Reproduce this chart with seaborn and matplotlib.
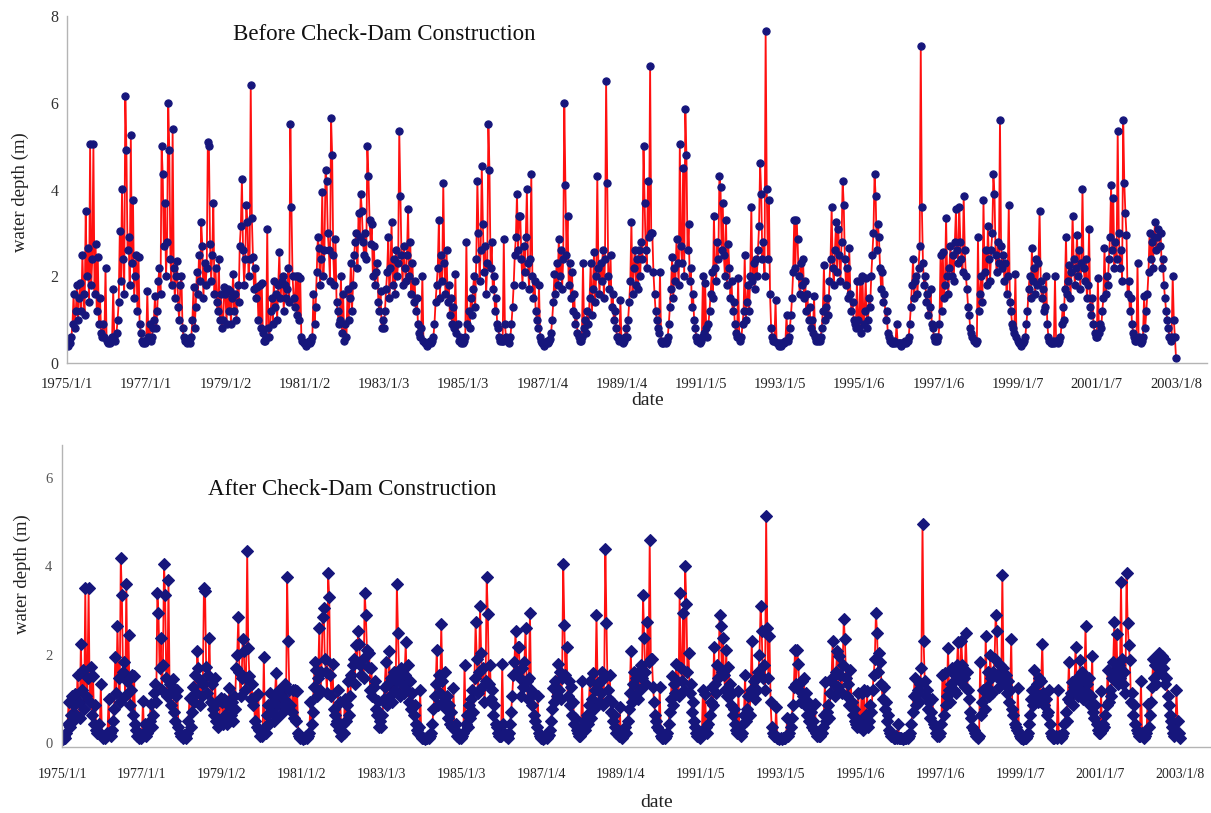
import numpy as np
import pandas as pd
import matplotlib
matplotlib.use("Agg")
import matplotlib.pyplot as plt
import seaborn as sns

sns.set_style("white")
plt.rcParams['font.family'] = ['Liberation Serif', 'DejaVu Serif']

# ---------------- data: water depth (m), ~10-day readings ----------------
before_1975 = [0.45,0.4,0.5,0.45,0.6,0.9,1.6,0.8,1.2,1.8,1.0,1.5,1.85,1.2,2.5,1.6,1.1,3.5,2.0,2.65,1.4,5.05,1.8,2.4,5.05,1.6,2.75,1.2,2.45,0.9,1.5,0.7,0.6,0.9,0.6,2.2]
before_1976 = [0.5,0.45,0.5,0.45,0.55,0.6,1.7,0.6,0.5,0.7,1.0,1.4,3.05,1.9,4.0,2.4,1.6,6.15,4.9,2.6,2.9,1.8,5.25,2.3,3.75,1.5,2.0,2.5,1.2,2.45,0.9,0.7,0.5,0.45,0.5,0.45]
before_1977 = [0.5,1.65,0.6,0.9,0.5,0.6,0.8,1.0,1.55,0.8,1.2,1.9,2.2,1.6,5.0,4.35,2.7,3.7,2.0,2.8,6.0,4.9,2.4,1.8,5.4,2.2,1.5,2.0,2.35,1.3,1.0,1.8,2.0,0.8,0.6,0.5]
before_1978 = [0.5,0.45,0.55,0.5,0.45,0.6,1.0,1.75,0.8,1.3,2.1,1.6,2.5,1.9,3.25,2.7,1.5,2.3,1.8,2.2,5.1,5.0,2.75,1.9,2.5,3.7,1.6,2.2,1.4,1.2,2.4,1.0,1.6,0.8,1.0,1.75]
before_1979 = [1.6,0.9,1.7,1.2,1.65,0.9,1.5,2.05,1.2,1.6,1.0,1.8,1.4,2.7,3.15,4.25,2.6,1.8,2.4,3.65,3.25,2.0,2.4,6.4,3.35,2.45,1.7,2.2,1.5,1.75,1.0,1.8,0.8,1.85,0.7,0.5]
before_1980 = [0.5,0.6,3.1,0.8,0.6,1.2,1.5,0.9,1.9,1.3,1.6,1.0,1.8,2.55,1.5,1.9,2.0,1.2,1.8,1.5,1.7,2.2,1.4,5.5,3.6,2.0,1.5,1.3,2.0,1.1,2.0,1.0,1.95,0.6,0.5,0.45]
before_1981 = [0.45,0.4,0.45,0.45,0.5,0.45,0.5,0.6,1.6,0.9,1.3,2.1,2.9,2.65,1.8,2.4,3.95,2.0,2.6,4.45,4.2,3.0,2.6,1.9,5.65,4.8,2.5,1.8,2.85,1.4,1.2,0.9,1.0,2.0,0.7,1.6]
before_1982 = [0.5,0.9,0.6,1.7,1.0,1.5,2.3,1.2,1.8,2.5,2.8,3.0,2.2,3.45,2.9,3.9,3.5,2.8,2.5,3.0,2.4,5.0,4.3,3.3,2.75,3.2,2.0,2.7,1.8,2.1,2.3,1.4,1.2,1.65,0.8,1.0]
before_1983 = [0.8,1.2,1.7,2.1,2.9,1.5,2.2,3.25,1.8,2.4,1.6,2.6,2.0,2.3,5.35,3.85,2.5,1.8,2.7,2.2,1.9,2.5,3.55,2.0,2.8,1.6,2.3,1.4,1.9,1.2,1.5,0.9,0.7,0.6,0.8,2.0]
before_1984 = [0.5,0.45,0.45,0.4,0.45,0.45,0.5,0.45,0.5,0.6,0.9,1.4,1.8,2.2,3.3,1.5,2.5,1.9,4.15,2.3,1.6,2.6,1.4,1.8,1.1,1.5,0.9,1.3,0.8,2.05,0.7,0.9,0.5,0.6,0.45,0.5]
before_1985 = [0.45,0.5,0.6,2.8,0.9,1.2,0.8,1.5,1.1,1.7,2.0,1.3,2.4,4.2,3.0,1.9,2.6,4.55,3.2,2.1,2.7,1.6,2.3,5.5,4.45,2.2,2.8,1.7,2.0,1.2,1.5,0.9,0.8,0.6,0.5,0.5]
before_1986 = [0.5,2.85,0.9,0.6,0.5,0.5,0.45,0.6,0.9,1.3,1.8,2.5,2.9,3.9,2.6,3.4,3.4,2.4,1.8,2.7,2.1,2.9,4.0,2.3,1.7,2.4,4.35,2.0,1.5,1.9,1.2,1.0,0.8,1.8,0.6,0.5]
before_1987 = [0.45,0.45,0.4,0.45,0.5,0.45,0.5,0.55,0.7,1.0,1.4,2.05,1.6,2.3,1.8,2.85,2.0,2.6,1.7,2.4,6.0,4.1,2.5,3.4,1.8,2.3,1.5,2.1,1.2,1.6,0.9,1.1,0.7,0.6,0.5,0.5]
before_1988 = [0.6,2.3,0.8,1.0,0.7,1.2,0.9,1.5,2.3,1.1,1.7,2.55,1.4,2.0,4.3,2.2,1.6,2.3,1.9,2.6,1.5,2.4,6.5,4.15,2.0,1.7,2.5,1.3,1.6,1.0,1.2,0.8,0.6,0.6,0.5,1.45]
before_1989 = [0.5,0.45,0.5,0.6,0.8,0.6,1.0,1.4,1.9,3.25,1.6,2.2,2.6,1.8,2.4,1.7,2.6,2.0,2.8,2.4,5.0,3.7,2.6,2.2,4.2,2.9,6.85,3.0,3.0,2.1,1.6,1.2,1.0,0.8,0.7,2.1]
before_1990 = [0.5,0.45,0.45,0.5,0.45,0.5,0.6,0.9,1.3,1.7,2.45,1.5,2.2,1.9,2.85,2.3,1.8,5.05,2.7,2.3,4.5,2.0,5.85,4.8,2.6,3.2,1.9,2.2,1.3,1.6,1.0,0.8,0.6,0.5,0.5,0.45]
before_1991 = [0.5,0.6,2.0,0.7,1.85,0.8,0.6,0.9,1.2,1.6,2.1,1.5,3.4,2.2,1.9,2.8,2.4,4.3,4.05,2.6,3.7,2.5,2.0,3.3,1.8,2.75,2.2,1.5,1.9,1.2,1.4,0.9,0.7,0.6,1.95,0.6]
before_1992 = [0.5,0.6,0.9,1.2,2.5,1.0,1.4,1.8,1.2,2.0,3.6,1.9,2.3,1.7,2.4,2.0,2.6,3.15,4.6,3.9,2.4,2.8,2.0,7.65,4.0,2.4,3.75,1.6,0.8,0.6,0.5,0.5,1.45,0.45,0.45,0.4]
before_1993 = [0.45,0.4,0.45,0.45,0.45,0.5,1.1,0.5,0.6,0.8,1.1,1.5,2.1,3.3,2.2,3.3,2.85,2.0,1.6,2.3,1.8,2.4,1.5,1.9,1.2,1.6,1.0,1.3,0.8,1.0,0.7,1.55,0.6,0.5,0.6,0.5]
before_1994 = [0.5,0.6,0.8,1.2,2.25,1.0,1.3,1.5,1.1,1.9,2.4,3.6,2.2,1.8,2.6,3.25,2.1,3.1,2.5,1.9,2.8,4.2,3.65,2.4,1.8,2.2,1.5,2.65,1.6,1.2,1.4,1.0,0.9,0.8,1.9,1.0]
before_1995 = [0.8,1.9,0.7,2.0,0.9,1.2,1.95,0.8,1.0,1.5,1.3,2.0,2.5,3.0,4.35,3.85,2.6,3.2,2.9,2.2,1.7,2.1,1.4,1.6,1.0,1.2,0.7,0.6,0.5,0.5,0.45,0.45,0.5,0.45,0.9,0.45]
before_1996 = [0.45,0.45,0.4,0.45,0.45,0.45,0.5,0.45,0.5,0.6,0.9,1.3,1.8,2.4,1.5,1.9,2.0,1.6,2.2,2.7,7.3,3.6,2.3,1.8,2.0,1.4,1.6,1.1,1.3,1.7,0.9,0.8,0.6,0.5,0.6,0.5]
before_1997 = [0.6,0.9,2.5,1.2,2.55,1.5,1.8,3.35,2.0,1.6,2.2,2.7,2.0,2.5,1.9,2.8,3.55,2.6,2.3,3.6,2.8,2.4,2.1,3.85,2.6,2.0,1.7,1.3,1.1,0.8,0.7,0.6,0.5,0.5,0.45,0.5]
before_1998 = [2.9,1.2,1.6,2.0,1.4,3.75,2.1,2.6,1.8,3.15,2.4,1.9,2.6,3.0,4.35,3.9,2.5,2.1,2.8,2.3,5.6,2.7,2.2,2.5,1.9,2.3,1.6,2.0,3.65,1.4,1.2,0.9,0.8,0.7,2.05,0.6]
before_1999 = [0.5,0.45,0.45,0.4,0.45,0.45,0.5,0.6,0.9,1.2,1.7,2.0,1.5,2.65,1.9,2.2,1.6,2.4,1.8,2.3,3.5,1.9,1.5,1.7,1.2,1.3,2.0,0.9,0.6,0.5,0.45,0.45,0.5,0.45,2.0,0.5]
before_2000 = [0.5,0.45,0.5,0.6,0.9,1.3,1.0,1.7,2.9,1.6,1.9,2.25,1.5,2.1,3.4,2.4,1.8,2.2,2.95,2.0,2.6,1.7,2.3,4.0,2.2,1.9,2.4,1.5,1.8,3.1,1.3,1.1,1.5,0.9,0.7,0.6]
before_2001 = [0.6,1.95,0.7,0.9,0.8,1.2,1.5,2.65,1.6,2.0,1.8,2.4,2.9,4.1,2.6,3.8,2.2,2.8,2.4,5.35,3.0,2.2,2.6,1.9,5.6,4.15,3.45,2.95,1.6,1.9,1.2,1.5,0.9,0.7,0.6,0.5]
before_2002 = [0.5,2.3,0.6,0.5,0.45,0.5,0.6,1.55,0.8,1.2,1.6,2.1,3.0,2.4,2.8,2.2,2.9,3.25,2.6,2.9,3.1,2.7,3.0,2.2,2.4,1.8,1.5,1.2,1.0,0.8,0.6,0.5,0.6,2.0,1.0,0.6]
before_2003 = [0.12]

after_1975 = [0.12,0.1,0.15,0.12,0.22,0.43,0.92,0.36,0.64,1.06,0.5,0.85,1.1,0.64,1.55,0.92,0.57,2.25,1.2,1.66,0.78,3.5,1.06,1.48,3.5,0.92,1.73,0.64,1.52,0.43,0.85,0.29,0.22,0.43,0.22,1.34]
after_1976 = [0.15,0.12,0.15,0.12,0.18,0.22,0.99,0.22,0.15,0.29,0.5,0.78,1.94,1.13,2.65,1.48,0.92,4.2,3.35,1.62,1.83,1.06,3.6,1.41,2.45,0.85,1.2,1.55,0.64,1.52,0.43,0.29,0.15,0.12,0.15,0.12]
after_1977 = [0.15,0.96,0.22,0.43,0.15,0.22,0.36,0.5,0.89,0.36,0.64,1.13,1.34,0.92,3.4,2.95,1.69,2.39,1.2,1.76,4.05,3.35,1.48,1.06,3.7,1.34,0.85,1.2,1.45,0.71,0.5,1.06,1.2,0.36,0.22,0.15]
after_1978 = [0.15,0.12,0.18,0.15,0.12,0.22,0.5,1.03,0.36,0.71,1.27,0.92,1.55,1.13,2.08,1.69,0.85,1.41,1.06,1.34,3.5,3.45,1.73,1.13,1.55,2.39,0.92,1.34,0.78,0.64,1.48,0.5,0.92,0.36,0.5,1.03]
after_1979 = [0.92,0.43,0.99,0.64,0.96,0.43,0.85,1.24,0.64,0.92,0.5,1.06,0.78,1.69,2.0,2.85,1.62,1.06,1.48,2.36,2.08,1.2,1.48,4.35,2.15,1.52,0.99,1.34,0.85,1.03,0.5,1.06,0.36,1.1,0.29,0.15]
after_1980 = [0.15,0.22,1.95,0.36,0.22,0.64,0.85,0.43,1.13,0.71,0.92,0.5,1.06,1.59,0.85,1.13,1.2,0.64,1.06,0.85,0.99,1.34,0.78,3.75,2.32,1.2,0.85,0.71,1.2,0.57,1.2,0.5,1.17,0.22,0.15,0.12]
after_1981 = [0.12,0.1,0.12,0.12,0.15,0.12,0.15,0.22,0.92,0.43,0.71,1.27,1.83,1.66,1.06,1.48,2.6,1.2,1.62,2.85,3.05,1.9,1.62,1.13,3.85,3.3,1.55,1.06,1.8,0.78,0.64,0.43,0.5,1.2,0.29,0.92]
after_1982 = [0.15,0.43,0.22,0.99,0.5,0.85,1.41,0.64,1.06,1.55,1.76,1.9,1.34,2.22,1.83,2.53,2.25,1.76,1.55,1.9,1.48,3.4,2.9,2.11,1.73,2.04,1.2,1.69,1.06,1.27,1.41,0.78,0.64,0.96,0.36,0.5]
after_1983 = [0.36,0.64,0.99,1.27,1.83,0.85,1.34,2.08,1.06,1.48,0.92,1.62,1.2,1.41,3.6,2.5,1.55,1.06,1.69,1.34,1.13,1.55,2.29,1.2,1.76,0.92,1.41,0.78,1.13,0.64,0.85,0.43,0.29,0.22,0.36,1.2]
after_1984 = [0.15,0.12,0.12,0.1,0.12,0.12,0.15,0.12,0.15,0.22,0.43,0.78,1.06,1.34,2.11,0.85,1.55,1.13,2.7,1.41,0.92,1.62,0.78,1.06,0.57,0.85,0.43,0.71,0.36,1.24,0.29,0.43,0.15,0.22,0.12,0.15]
after_1985 = [0.12,0.15,0.22,1.76,0.43,0.64,0.36,0.85,0.57,0.99,1.2,0.71,1.48,2.74,1.9,1.13,1.62,3.1,2.04,1.27,1.69,0.92,1.41,3.75,2.92,1.34,1.76,0.99,1.2,0.64,0.85,0.43,0.36,0.22,0.15,0.15]
after_1986 = [0.15,1.8,0.43,0.22,0.15,0.15,0.12,0.22,0.43,0.71,1.06,1.55,1.83,2.53,1.62,2.18,2.18,1.48,1.06,1.69,1.27,1.83,2.6,1.41,0.99,1.48,2.95,1.2,0.85,1.13,0.64,0.5,0.36,1.06,0.22,0.15]
after_1987 = [0.12,0.12,0.1,0.12,0.15,0.12,0.15,0.18,0.29,0.5,0.78,1.24,0.92,1.41,1.06,1.8,1.2,1.62,0.99,1.48,4.05,2.67,1.55,2.18,1.06,1.41,0.85,1.27,0.64,0.92,0.43,0.57,0.29,0.22,0.15,0.15]
after_1988 = [0.22,1.41,0.36,0.5,0.29,0.64,0.43,0.85,1.41,0.57,0.99,1.59,0.78,1.2,2.9,1.34,0.92,1.41,1.13,1.62,0.85,1.48,4.4,2.71,1.2,0.99,1.55,0.71,0.92,0.5,0.64,0.36,0.22,0.22,0.15,0.82]
after_1989 = [0.15,0.12,0.15,0.22,0.36,0.22,0.5,0.78,1.13,2.08,0.92,1.34,1.62,1.06,1.48,0.99,1.62,1.2,1.76,1.48,3.35,2.39,1.62,1.34,2.74,1.83,4.6,1.9,1.9,1.27,0.92,0.64,0.5,0.36,0.29,1.27]
after_1990 = [0.15,0.12,0.12,0.15,0.12,0.15,0.22,0.43,0.71,0.99,1.52,0.85,1.34,1.13,1.8,1.41,1.06,3.4,1.69,1.41,2.95,1.2,4.0,3.16,1.62,2.04,1.13,1.34,0.71,0.92,0.5,0.36,0.22,0.15,0.15,0.12]
after_1991 = [0.15,0.22,1.2,0.29,1.1,0.36,0.22,0.43,0.64,0.92,1.27,0.85,2.18,1.34,1.13,1.76,1.48,2.9,2.64,1.62,2.39,1.55,1.2,2.11,1.06,1.73,1.34,0.85,1.13,0.64,0.78,0.43,0.29,0.22,1.17,0.22]
after_1992 = [0.15,0.22,0.43,0.64,1.55,0.5,0.78,1.06,0.64,1.2,2.32,1.13,1.41,0.99,1.48,1.2,1.62,2.0,3.1,2.53,1.48,1.76,1.2,5.15,2.6,1.48,2.43,0.92,0.36,0.22,0.15,0.15,0.82,0.12,0.12,0.1]
after_1993 = [0.12,0.1,0.12,0.12,0.12,0.15,0.57,0.15,0.22,0.36,0.57,0.85,1.27,2.11,1.34,2.1,1.8,1.2,0.92,1.41,1.06,1.48,0.85,1.13,0.64,0.92,0.5,0.71,0.36,0.5,0.29,0.89,0.22,0.15,0.22,0.15]
after_1994 = [0.15,0.22,0.36,0.64,1.38,0.5,0.71,0.85,0.57,1.13,1.48,2.32,1.34,1.06,1.62,2.08,1.27,1.97,1.55,1.13,1.76,2.8,2.36,1.48,1.06,1.34,0.85,1.66,0.92,0.64,0.78,0.5,0.43,0.36,1.13,0.5]
after_1995 = [0.36,1.13,0.29,1.2,0.43,0.64,1.17,0.36,0.5,0.85,0.71,1.2,1.55,1.9,2.95,2.5,1.62,2.04,1.83,1.34,0.99,1.27,0.78,0.92,0.5,0.64,0.29,0.22,0.15,0.15,0.12,0.12,0.15,0.12,0.43,0.12]
after_1996 = [0.12,0.12,0.1,0.12,0.12,0.12,0.15,0.12,0.15,0.22,0.43,0.71,1.06,1.48,0.85,1.13,1.2,0.92,1.34,1.69,4.95,2.32,1.41,1.06,1.2,0.78,0.92,0.57,0.71,0.99,0.43,0.36,0.22,0.15,0.22,0.15]
after_1997 = [0.22,0.43,1.55,0.64,1.59,0.85,1.06,2.15,1.2,0.92,1.34,1.69,1.2,1.55,1.13,1.76,2.29,1.62,1.41,2.32,1.76,1.48,1.27,2.5,1.62,1.2,0.99,0.71,0.57,0.36,0.29,0.22,0.15,0.15,0.12,0.15]
after_1998 = [1.83,0.64,0.92,1.2,0.78,2.43,1.27,1.62,1.06,2.0,1.48,1.13,1.62,1.9,2.9,2.53,1.55,1.27,1.76,1.41,3.8,1.69,1.34,1.55,1.13,1.41,0.92,1.2,2.36,0.78,0.64,0.43,0.36,0.29,1.24,0.22]
after_1999 = [0.15,0.12,0.12,0.1,0.12,0.12,0.15,0.22,0.43,0.64,0.99,1.2,0.85,1.66,1.13,1.34,0.92,1.48,1.06,1.41,2.25,1.13,0.85,0.99,0.64,0.71,1.2,0.43,0.22,0.15,0.12,0.12,0.15,0.12,1.2,0.15]
after_2000 = [0.15,0.12,0.15,0.22,0.43,0.71,0.5,0.99,1.83,0.92,1.13,1.38,0.85,1.27,2.18,1.48,1.06,1.34,1.87,1.2,1.62,0.99,1.41,2.65,1.34,1.13,1.48,0.85,1.06,1.97,0.71,0.57,0.85,0.43,0.29,0.22]
after_2001 = [0.22,1.17,0.29,0.43,0.36,0.64,0.85,1.66,0.92,1.2,1.06,1.48,1.83,2.75,1.62,2.46,1.34,1.76,1.48,3.65,1.9,1.34,1.62,1.13,3.85,2.71,2.22,1.87,0.92,1.13,0.64,0.85,0.43,0.29,0.22,0.15]
after_2002 = [0.15,1.41,0.22,0.15,0.12,0.15,0.22,0.89,0.36,0.64,0.92,1.27,1.9,1.48,1.76,1.34,1.83,2.05,1.62,1.83,1.97,1.69,1.9,1.34,1.48,1.06,0.85,0.64,0.5,0.36,0.22,0.15,0.22,1.2,0.5,0.22]
after_2003 = [0.12]

tick_labels = ['1975/1/1', '1977/1/1', '1979/1/2', '1981/1/2', '1983/1/3', '1985/1/3', '1987/1/4',
               '1989/1/4', '1991/1/5', '1993/1/5', '1995/1/6', '1997/1/6', '1999/1/7', '2001/1/7', '2003/1/8']
series_start = '1975/1/1'
series_end = '2003/1/8'

before = np.concatenate([globals()['before_%d' % y] for y in range(1975, 2004)])
after = np.concatenate([globals()['after_%d' % y] for y in range(1975, 2004)])
dates = pd.date_range(pd.to_datetime(series_start, format='%Y/%m/%d'),
                      pd.to_datetime(series_end, format='%Y/%m/%d'), periods=len(before))
df = pd.DataFrame({'date': dates, 'before': before, 'after': after})
tick_pos = pd.to_datetime(tick_labels, format='%Y/%m/%d')

NAVY = '#16167c'
RED = '#ff1010'
SPINE = '#b4b4b4'

fig = plt.figure(figsize=(12.11, 8.13), dpi=100)
ax1 = fig.add_axes([67 / 1211, 450 / 813, 1140 / 1211, 347 / 813])
ax2 = fig.add_axes([62 / 1211, 66 / 813, 1149 / 1211, 302 / 813])

xmin = pd.Timestamp('1975-01-01')
xmax = xmin + pd.Timedelta(days=10520)

sns.lineplot(data=df, x='date', y='before', ax=ax1, color=RED, lw=1.3,
             marker='o', markersize=5.2, markerfacecolor=NAVY, markeredgecolor=NAVY,
             markeredgewidth=0.8, estimator=None, sort=False)
sns.lineplot(data=df, x='date', y='after', ax=ax2, color=RED, lw=1.3,
             marker='D', markersize=6.3, markerfacecolor=NAVY, markeredgecolor=NAVY,
             markeredgewidth=0.8, estimator=None, sort=False)

for ax in (ax1, ax2):
    ax.set_xlim(xmin, xmax)
    ax.set_xticks(tick_pos)
    ax.set_xticklabels(tick_labels)
    ax.set_xlabel('')
    ax.set_ylabel('')
    for s in ('top', 'right'):
        ax.spines[s].set_visible(False)
    for s in ('left', 'bottom'):
        ax.spines[s].set_color(SPINE)
        ax.spines[s].set_linewidth(1.0)
    ax.patch.set_alpha(0)

ax1.set_ylim(0, 8)
ax1.set_yticks([0, 2, 4, 6, 8])
ax1.tick_params(axis='x', direction='in', length=4, color=SPINE, pad=11, labelsize=10.5, labelcolor='#222222')
ax1.tick_params(axis='y', direction='in', length=4, color=SPINE, pad=6, labelsize=11.5, labelcolor='#333333')

ax2.set_ylim(-0.09, 6.75)
ax2.set_yticks([0, 2, 4, 6])
ax2.tick_params(axis='x', direction='in', length=0, pad=15, labelsize=10, labelcolor='#222222')
ax2.tick_params(axis='y', direction='in', length=4, color=SPINE, pad=7, labelsize=10.5, labelcolor='#555555')

ax1.text(0.1456, 0.948, 'Before Check-Dam Construction', transform=ax1.transAxes,
         ha='left', va='center', fontsize=16.5, color='#111111')
ax2.text(0.127, 0.851, 'After Check-Dam Construction', transform=ax2.transAxes,
         ha='left', va='center', fontsize=16.5, color='#111111')

fig.text(20 / 1211, 1 - 192 / 813, 'water depth (m)', rotation=90, ha='center', va='center',
         fontsize=13.5, color='#222222')
fig.text(22 / 1211, 1 - 574 / 813, 'water depth (m)', rotation=90, ha='center', va='center',
         fontsize=13.5, color='#222222')
fig.text(648 / 1211, 1 - 400 / 813, 'date', ha='center', va='center', fontsize=14, color='#222222')
fig.text(657 / 1211, 1 - 802 / 813, 'date', ha='center', va='center', fontsize=14, color='#222222')

fig.savefig('out.png', dpi=100)
